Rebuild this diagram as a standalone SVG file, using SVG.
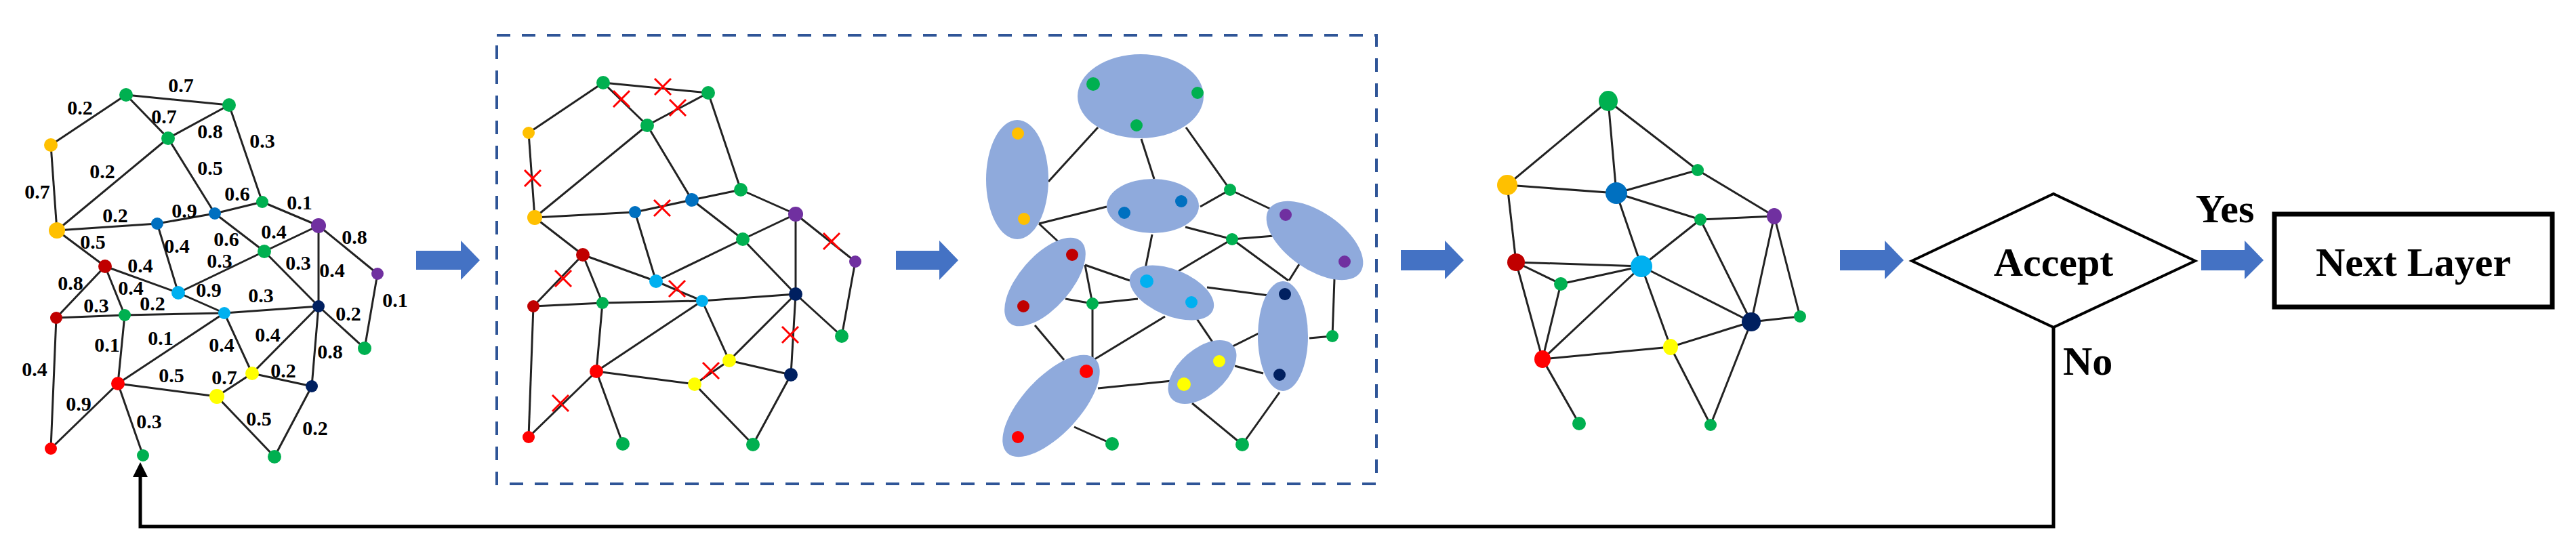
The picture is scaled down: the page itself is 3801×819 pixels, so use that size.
<svg xmlns="http://www.w3.org/2000/svg" width="3801" height="819" viewBox="0 0 3801 819">
<style>
.e{stroke:#222;stroke-width:3;fill:none}
.g{fill:#00B050}.o{fill:#FFC000}.b{fill:#0070C0}.lb{fill:#00B0F0}.p{fill:#7030A0}.dr{fill:#C00000}.r{fill:#FF0000}.n{fill:#002060}.y{fill:#FFFF00}
.w{font-family:"Liberation Serif",serif;font-weight:bold;font-size:30px;text-anchor:middle;dominant-baseline:central;fill:#000}
.t{font-family:"Liberation Serif",serif;font-weight:bold;font-size:60px;fill:#000}
.x{stroke:#FF0000;stroke-width:3}
.el{fill:#8FAADC}
.ar{fill:#4472C4}
</style>
<rect width="3801" height="819" fill="#fff"/>
<g id="connectors">
<!-- graph 1 edges -->
<g class="e">
<line x1="186" y1="140" x2="338" y2="155"/><line x1="186" y1="140" x2="75" y2="214"/><line x1="186" y1="140" x2="248" y2="204"/><line x1="338" y1="155" x2="248" y2="204"/><line x1="338" y1="155" x2="387" y2="298"/><line x1="75" y1="214" x2="84" y2="340"/><line x1="248" y1="204" x2="84" y2="340"/><line x1="248" y1="204" x2="317" y2="315"/><line x1="84" y1="340" x2="232" y2="330"/><line x1="232" y1="330" x2="317" y2="315"/><line x1="317" y1="315" x2="387" y2="298"/><line x1="387" y1="298" x2="470" y2="333"/><line x1="317" y1="315" x2="390" y2="371"/><line x1="470" y1="333" x2="390" y2="371"/><line x1="470" y1="333" x2="557" y2="404"/><line x1="470" y1="333" x2="470" y2="452"/><line x1="390" y1="371" x2="470" y2="452"/><line x1="390" y1="371" x2="263" y2="432"/><line x1="232" y1="330" x2="263" y2="432"/><line x1="84" y1="340" x2="155" y2="393"/><line x1="155" y1="393" x2="263" y2="432"/><line x1="263" y1="432" x2="331" y2="462"/><line x1="155" y1="393" x2="83" y2="469"/><line x1="155" y1="393" x2="184" y2="465"/><line x1="83" y1="469" x2="184" y2="465"/><line x1="184" y1="465" x2="331" y2="462"/><line x1="331" y1="462" x2="470" y2="452"/><line x1="470" y1="452" x2="538" y2="514"/><line x1="557" y1="404" x2="538" y2="514"/><line x1="470" y1="452" x2="372" y2="551"/><line x1="470" y1="452" x2="460" y2="570"/><line x1="331" y1="462" x2="372" y2="551"/><line x1="331" y1="462" x2="174" y2="566"/><line x1="184" y1="465" x2="174" y2="566"/><line x1="372" y1="551" x2="460" y2="570"/><line x1="372" y1="551" x2="320" y2="585"/><line x1="174" y1="566" x2="320" y2="585"/><line x1="83" y1="469" x2="75" y2="662"/><line x1="174" y1="566" x2="75" y2="662"/><line x1="174" y1="566" x2="211" y2="672"/><line x1="320" y1="585" x2="405" y2="674"/><line x1="460" y1="570" x2="405" y2="674"/>
</g>
<!-- graph 2 edges -->
<g class="e">
<line x1="890" y1="122" x2="1045" y2="137"/><line x1="890" y1="122" x2="780" y2="196"/><line x1="890" y1="122" x2="955" y2="185"/><line x1="1045" y1="137" x2="955" y2="185"/><line x1="1045" y1="137" x2="1093" y2="280"/><line x1="780" y1="196" x2="789" y2="321"/><line x1="955" y1="185" x2="789" y2="321"/><line x1="955" y1="185" x2="1021" y2="295"/><line x1="789" y1="321" x2="937" y2="313"/><line x1="937" y1="313" x2="1021" y2="295"/><line x1="1021" y1="295" x2="1093" y2="280"/><line x1="1093" y1="280" x2="1174" y2="316"/><line x1="1021" y1="295" x2="1096" y2="353"/><line x1="1174" y1="316" x2="1096" y2="353"/><line x1="1174" y1="316" x2="1262" y2="386"/><line x1="1174" y1="316" x2="1174" y2="434"/><line x1="1096" y1="353" x2="1174" y2="434"/><line x1="1096" y1="353" x2="968" y2="415"/><line x1="937" y1="313" x2="968" y2="415"/><line x1="789" y1="321" x2="860" y2="376"/><line x1="860" y1="376" x2="968" y2="415"/><line x1="968" y1="415" x2="1036" y2="444"/><line x1="860" y1="376" x2="787" y2="452"/><line x1="860" y1="376" x2="889" y2="447"/><line x1="787" y1="452" x2="889" y2="447"/><line x1="889" y1="447" x2="1036" y2="444"/><line x1="1036" y1="444" x2="1174" y2="434"/><line x1="1174" y1="434" x2="1242" y2="496"/><line x1="1262" y1="386" x2="1242" y2="496"/><line x1="1174" y1="434" x2="1076" y2="532"/><line x1="1174" y1="434" x2="1167" y2="553"/><line x1="1036" y1="444" x2="1076" y2="532"/><line x1="1036" y1="444" x2="880" y2="548"/><line x1="889" y1="447" x2="880" y2="548"/><line x1="1076" y1="532" x2="1167" y2="553"/><line x1="1076" y1="532" x2="1025" y2="567"/><line x1="880" y1="548" x2="1025" y2="567"/><line x1="787" y1="452" x2="780" y2="645"/><line x1="880" y1="548" x2="780" y2="645"/><line x1="880" y1="548" x2="919" y2="655"/><line x1="1025" y1="567" x2="1111" y2="656"/><line x1="1167" y1="553" x2="1111" y2="656"/>
</g>
<!-- graph 3 edges -->
<g class="e">
<line x1="1620" y1="188" x2="1547" y2="268"/><line x1="1684" y1="205" x2="1703" y2="264"/><line x1="1750" y1="188" x2="1815" y2="280"/><line x1="1815" y1="280" x2="1771" y2="305"/><line x1="1815" y1="280" x2="1876" y2="309"/><line x1="1533" y1="330" x2="1633" y2="305"/><line x1="1533" y1="330" x2="1562" y2="357"/><line x1="1749" y1="335" x2="1818" y2="353"/><line x1="1818" y1="353" x2="1880" y2="348"/><line x1="1818" y1="353" x2="1739" y2="400"/><line x1="1818" y1="353" x2="1901" y2="414"/><line x1="1917" y1="390" x2="1902" y2="414"/><line x1="1700" y1="346" x2="1690" y2="396"/><line x1="1601" y1="391" x2="1667" y2="414"/><line x1="1601" y1="391" x2="1612" y2="448"/><line x1="1572" y1="441" x2="1612" y2="448"/><line x1="1612" y1="448" x2="1679" y2="441"/><line x1="1781" y1="424" x2="1872" y2="436"/><line x1="1969" y1="412" x2="1966" y2="496"/><line x1="1932" y1="499" x2="1966" y2="496"/><line x1="1612" y1="448" x2="1612" y2="532"/><line x1="1612" y1="532" x2="1719" y2="467"/><line x1="1527" y1="480" x2="1570" y2="531"/><line x1="1765" y1="469" x2="1790" y2="506"/><line x1="1817" y1="512" x2="1857" y2="492"/><line x1="1822" y1="540" x2="1864" y2="551"/><line x1="1620" y1="573" x2="1729" y2="562"/><line x1="1585" y1="630" x2="1641" y2="655"/><line x1="1759" y1="595" x2="1833" y2="656"/><line x1="1888" y1="579" x2="1833" y2="656"/>
</g>
<!-- graph 4 edges -->
<g class="e">
<line x1="2373" y1="149" x2="2224" y2="273"/><line x1="2373" y1="149" x2="2385" y2="285"/><line x1="2373" y1="149" x2="2505" y2="251"/><line x1="2224" y1="273" x2="2385" y2="285"/><line x1="2224" y1="273" x2="2237" y2="387"/><line x1="2385" y1="285" x2="2505" y2="251"/><line x1="2385" y1="285" x2="2509" y2="324"/><line x1="2385" y1="285" x2="2422" y2="393"/><line x1="2505" y1="251" x2="2618" y2="319"/><line x1="2509" y1="324" x2="2618" y2="319"/><line x1="2509" y1="324" x2="2422" y2="393"/><line x1="2509" y1="324" x2="2584" y2="475"/><line x1="2618" y1="319" x2="2584" y2="475"/><line x1="2618" y1="319" x2="2656" y2="467"/><line x1="2237" y1="387" x2="2422" y2="393"/><line x1="2237" y1="387" x2="2303" y2="419"/><line x1="2237" y1="387" x2="2276" y2="530"/><line x1="2303" y1="419" x2="2422" y2="393"/><line x1="2303" y1="419" x2="2276" y2="530"/><line x1="2422" y1="393" x2="2276" y2="530"/><line x1="2422" y1="393" x2="2465" y2="512"/><line x1="2422" y1="393" x2="2584" y2="475"/><line x1="2584" y1="475" x2="2656" y2="467"/><line x1="2584" y1="475" x2="2465" y2="512"/><line x1="2584" y1="475" x2="2524" y2="627"/><line x1="2465" y1="512" x2="2276" y2="530"/><line x1="2465" y1="512" x2="2524" y2="627"/><line x1="2276" y1="530" x2="2330" y2="625"/>
</g>
<!-- block arrows -->
<g class="ar">
<polygon points="614,370 680,370 680,355 708,384 680,413 680,398 614,398"/>
<polygon points="1322,370 1386,370 1386,355 1414,384 1386,413 1386,398 1322,398"/>
<polygon points="2067,369 2132,369 2132,355 2160,384 2132,412 2132,399 2067,399"/>
<polygon points="2715,369 2781,369 2781,355 2809,384 2781,412 2781,399 2715,399"/>
<polygon points="3248,369 3312,369 3312,355 3340,384 3312,412 3312,399 3248,399"/>
</g>
<!-- feedback -->
<polyline points="3030,483 3030,777 207,777 207,700" fill="none" stroke="#000" stroke-width="5"/>
<polygon points="207,682 196,704 218,704" fill="#000"/>
</g>
<rect x="733" y="52" width="1298" height="662" fill="none" stroke="#2F5597" stroke-width="4" stroke-dasharray="20,17"/>
<g id="graph1">
<circle cx="186" cy="140" r="10" class="g"/><circle cx="338" cy="155" r="10" class="g"/><circle cx="75" cy="214" r="10" class="o"/><circle cx="248" cy="204" r="10" class="g"/><circle cx="84" cy="340" r="12" class="o"/><circle cx="232" cy="330" r="9" class="b"/><circle cx="317" cy="315" r="9" class="b"/><circle cx="387" cy="298" r="9" class="g"/><circle cx="470" cy="333" r="11" class="p"/><circle cx="390" cy="371" r="10" class="g"/><circle cx="557" cy="404" r="9" class="p"/><circle cx="155" cy="393" r="10" class="dr"/><circle cx="263" cy="432" r="10" class="lb"/><circle cx="83" cy="469" r="9" class="dr"/><circle cx="184" cy="465" r="9" class="g"/><circle cx="331" cy="462" r="9" class="lb"/><circle cx="470" cy="452" r="9" class="n"/><circle cx="538" cy="514" r="10" class="g"/><circle cx="372" cy="551" r="10" class="y"/><circle cx="460" cy="570" r="9" class="n"/><circle cx="174" cy="566" r="10" class="r"/><circle cx="320" cy="585" r="11" class="y"/><circle cx="75" cy="662" r="9" class="r"/><circle cx="211" cy="672" r="9" class="g"/><circle cx="405" cy="674" r="10" class="g"/>
</g>
<g id="weights">
<text class="w" x="267" y="125">0.7</text><text class="w" x="118" y="158">0.2</text><text class="w" x="242" y="171">0.7</text><text class="w" x="310" y="193">0.8</text><text class="w" x="387" y="207">0.3</text><text class="w" x="151" y="252">0.2</text><text class="w" x="310" y="247">0.5</text><text class="w" x="55" y="282">0.7</text><text class="w" x="350" y="285">0.6</text><text class="w" x="442" y="298">0.1</text><text class="w" x="170" y="317">0.2</text><text class="w" x="272" y="310">0.9</text><text class="w" x="137" y="356">0.5</text><text class="w" x="261" y="362">0.4</text><text class="w" x="334" y="352">0.6</text><text class="w" x="404" y="341">0.4</text><text class="w" x="523" y="349">0.8</text><text class="w" x="324" y="384">0.3</text><text class="w" x="440" y="387">0.3</text><text class="w" x="490" y="398">0.4</text><text class="w" x="207" y="391">0.4</text><text class="w" x="104" y="417">0.8</text><text class="w" x="193" y="424">0.4</text><text class="w" x="308" y="427">0.9</text><text class="w" x="385" y="435">0.3</text><text class="w" x="583" y="442">0.1</text><text class="w" x="142" y="450">0.3</text><text class="w" x="225" y="447">0.2</text><text class="w" x="514" y="462">0.2</text><text class="w" x="237" y="498">0.1</text><text class="w" x="395" y="493">0.4</text><text class="w" x="158" y="508">0.1</text><text class="w" x="327" y="508">0.4</text><text class="w" x="487" y="518">0.8</text><text class="w" x="51" y="544">0.4</text><text class="w" x="253" y="553">0.5</text><text class="w" x="331" y="556">0.7</text><text class="w" x="418" y="546">0.2</text><text class="w" x="116" y="595">0.9</text><text class="w" x="220" y="621">0.3</text><text class="w" x="382" y="617">0.5</text><text class="w" x="465" y="631">0.2</text>
</g>
<g id="graph2">
<circle cx="890" cy="122" r="10" class="g"/><circle cx="1045" cy="137" r="10" class="g"/><circle cx="780" cy="196" r="9" class="o"/><circle cx="955" cy="185" r="10" class="g"/><circle cx="789" cy="321" r="11" class="o"/><circle cx="937" cy="313" r="9" class="b"/><circle cx="1021" cy="295" r="10" class="b"/><circle cx="1093" cy="280" r="10" class="g"/><circle cx="1174" cy="316" r="11" class="p"/><circle cx="1096" cy="353" r="10" class="g"/><circle cx="1262" cy="386" r="9" class="p"/><circle cx="860" cy="376" r="10" class="dr"/><circle cx="968" cy="415" r="10" class="lb"/><circle cx="787" cy="452" r="9" class="dr"/><circle cx="889" cy="447" r="9" class="g"/><circle cx="1036" cy="444" r="9" class="lb"/><circle cx="1174" cy="434" r="10" class="n"/><circle cx="1242" cy="496" r="10" class="g"/><circle cx="1076" cy="532" r="10" class="y"/><circle cx="1167" cy="553" r="10" class="n"/><circle cx="880" cy="548" r="10" class="r"/><circle cx="1025" cy="567" r="10" class="y"/><circle cx="780" cy="645" r="9" class="r"/><circle cx="919" cy="655" r="10" class="g"/><circle cx="1111" cy="656" r="10" class="g"/>
</g>
<g id="removed-marks" class="x">
<path d="M905,134l24,24M929,134l-24,24M966,116l24,24M990,116l-24,24M988,147l24,24M1012,147l-24,24M774,251l24,24M798,251l-24,24M965,295l24,24M989,295l-24,24M1215,344l24,24M1239,344l-24,24M819,399l24,24M843,399l-24,24M987,414l24,24M1011,414l-24,24M1154,482l24,24M1178,482l-24,24M1037,535l24,24M1061,535l-24,24M815,583l24,24M839,583l-24,24"/>
</g>
<g id="graph3">
<ellipse class="el" cx="1683" cy="142" rx="93" ry="62"/>
<ellipse class="el" cx="1501" cy="265" rx="46" ry="88"/>
<ellipse class="el" cx="1701" cy="304" rx="68" ry="40"/>
<ellipse class="el" cx="1940" cy="355" rx="82" ry="42" transform="rotate(35 1940 355)"/>
<ellipse class="el" cx="1542" cy="416" rx="80" ry="38" transform="rotate(-49 1542 416)"/>
<ellipse class="el" cx="1729" cy="432" rx="66" ry="34" transform="rotate(23 1729 432)"/>
<ellipse class="el" cx="1893" cy="496" rx="37" ry="81"/>
<ellipse class="el" cx="1774" cy="549" rx="60" ry="34" transform="rotate(-41 1774 549)"/>
<ellipse class="el" cx="1551" cy="599" rx="95" ry="42" transform="rotate(-47 1551 599)"/>
<circle cx="1613" cy="124" r="10" class="g"/><circle cx="1767" cy="137" r="9" class="g"/><circle cx="1677" cy="185" r="9" class="g"/><circle cx="1502" cy="197" r="9" class="o"/><circle cx="1511" cy="323" r="9" class="o"/><circle cx="1659" cy="314" r="9" class="b"/><circle cx="1743" cy="297" r="9" class="b"/><circle cx="1815" cy="280" r="9" class="g"/><circle cx="1897" cy="317" r="9" class="p"/><circle cx="1818" cy="353" r="9" class="g"/><circle cx="1984" cy="386" r="9" class="p"/><circle cx="1582" cy="376" r="9" class="dr"/><circle cx="1692" cy="415" r="10" class="lb"/><circle cx="1510" cy="452" r="9" class="dr"/><circle cx="1612" cy="448" r="9" class="g"/><circle cx="1758" cy="446" r="9" class="lb"/><circle cx="1896" cy="434" r="9" class="n"/><circle cx="1966" cy="496" r="9" class="g"/><circle cx="1799" cy="533" r="9" class="y"/><circle cx="1888" cy="553" r="9" class="n"/><circle cx="1603" cy="548" r="10" class="r"/><circle cx="1747" cy="567" r="10" class="y"/><circle cx="1502" cy="645" r="9" class="r"/><circle cx="1641" cy="655" r="10" class="g"/><circle cx="1833" cy="656" r="10" class="g"/>
</g>
<g id="graph4">
<ellipse cx="2373" cy="149" rx="14" ry="15" class="g"/><ellipse cx="2224" cy="273" rx="15" ry="15" class="o"/><ellipse cx="2385" cy="285" rx="16" ry="16" class="b"/><circle cx="2505" cy="251" r="9" class="g"/><circle cx="2509" cy="324" r="9" class="g"/><ellipse cx="2618" cy="319" rx="11" ry="12" class="p"/><circle cx="2237" cy="387" r="13" class="dr"/><circle cx="2422" cy="393" r="16" class="lb"/><circle cx="2303" cy="419" r="10" class="g"/><circle cx="2584" cy="475" r="14" class="n"/><circle cx="2656" cy="467" r="9" class="g"/><ellipse cx="2465" cy="512" rx="11" ry="12" class="y"/><ellipse cx="2276" cy="530" rx="12" ry="13" class="r"/><circle cx="2330" cy="625" r="10" class="g"/><circle cx="2524" cy="627" r="9" class="g"/>
</g>
<g id="accept">
<polygon points="2821,385 3030,286 3239,385 3030,483" fill="#fff" stroke="#000" stroke-width="4"/>
<text class="t" x="3030" y="407" text-anchor="middle">Accept</text>
</g>
<g id="next-layer">
<rect x="3356" y="316" width="410" height="137" fill="#fff" stroke="#000" stroke-width="7"/>
<text class="t" x="3561" y="407" text-anchor="middle">Next Layer</text>
</g>
<text class="t" x="3283" y="328" text-anchor="middle" font-size="56">Yes</text>
<text class="t" x="3044" y="553">No</text>
</svg>
